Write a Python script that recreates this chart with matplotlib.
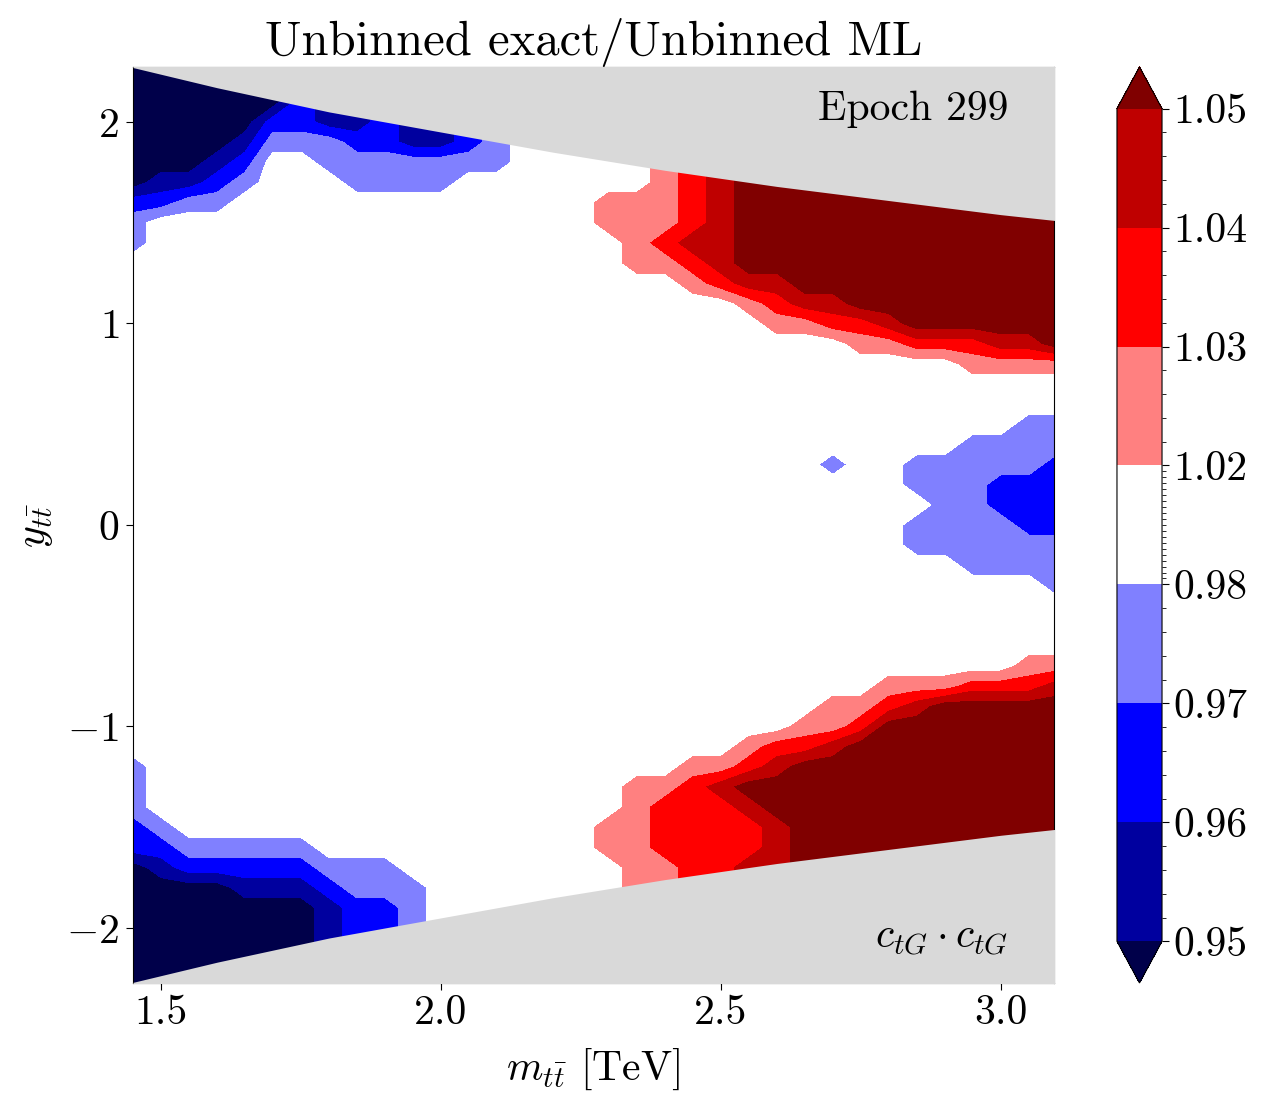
"""
Rapport exact / ML non binné dans le plan (m_tt, y_tt), époque 299.
"""

import matplotlib
matplotlib.use("Agg")
import matplotlib.pyplot as plt
import matplotlib.ticker as mticker
from matplotlib.cm import ScalarMappable
from matplotlib.colors import from_levels_and_colors
import numpy as np

plt.rcParams.update({
    "font.family":                 "serif",
    "font.serif":                  ["cmr10"],
    "mathtext.fontset":            "cm",
    "axes.formatter.use_mathtext": True,
    "font.size":                   30,
    "xtick.major.size":            5,
    "ytick.major.size":            5,
})

GRAY = "#d9d9d9"

# ── Données ───────────────────────────────────────────────────────────────────

# grille d'échantillonnage (TeV, rapidité)
m_grid = np.linspace(1.45, 3.10, 34)
y_grid = np.linspace(2.3, -2.3, 47)

# bornes des bandes du rapport exact/ML
levels = [0.95, 0.96, 0.97, 0.98, 1.02, 1.03, 1.04, 1.05]

# bande lue sur la carte (0 : < 0.95 ... 4 : 0.98-1.02 ... 8 : > 1.05),
# une ligne par valeur de y (haut -> bas), une colonne par valeur de m
band_rows = [
    "0000002112112344444567888888888888",  # 2.3
    "0000002112112344444567888888888888",  # 2.2
    "0000002112112344444567888888888888",  # 2.1
    "0000022112112344444567888888888888",  # 2.0
    "0000133322112344444567888888888888",  # 1.9
    "0001244333333344444567888888888888",  # 1.8
    "0112344433334444444567888888888888",  # 1.7
    "2233444444444444455567888888888888",  # 1.6
    "3444444444444444455567888888888888",  # 1.5
    "3444444444444444445677888888888888",  # 1.4
    "4444444444444444445567888888888888",  # 1.3
    "4444444444444444444456778888888888",  # 1.2
    "4444444444444444444444567788888888",  # 1.1
    "4444444444444444444444455667888888",  # 1.0
    "4444444444444444444444444455666778",  # 0.9
    "4444444444444444444444444444445555",  # 0.8
    "4444444444444444444444444444444444",  # 0.7
    "4444444444444444444444444444444444",  # 0.6
    "4444444444444444444444444444444433",  # 0.5
    "4444444444444444444444444444443333",  # 0.4
    "4444444444444444444444444344333332",  # 0.3
    "4444444444444444444444444444333222",  # 0.2
    "4444444444444444444444444444433222",  # 0.1
    "4444444444444444444444444444333322",  # 0.0
    "4444444444444444444444444444333333",  # -0.1
    "4444444444444444444444444444443333",  # -0.2
    "4444444444444444444444444444444443",  # -0.3
    "4444444444444444444444444444444444",  # -0.4
    "4444444444444444444444444444444444",  # -0.5
    "4444444444444444444444444444444444",  # -0.6
    "4444444444444444444444444444444455",  # -0.7
    "4444444444444444444444444445556667",  # -0.8
    "4444444444444444444444444556788888",  # -0.9
    "4444444444444444444444445568888888",  # -1.0
    "4444444444444444444444566788888888",  # -1.1
    "3444444444444444444455678888888888",  # -1.2
    "3444444444444444445567888888888888",  # -1.3
    "3444444444444444445666788888888888",  # -1.4
    "2344444444444444455666678888888888",  # -1.5
    "2233333444444444455666678888888888",  # -1.6
    "0122222333444444445566778888888888",  # -1.7
    "0000111233344444445566778888888888",  # -1.8
    "0000000122344444445566778888888888",  # -1.9
    "0000000122344444445566778888888888",  # -2.0
    "0000000122344444445566778888888888",  # -2.1
    "0000000122344444445566778888888888",  # -2.2
    "0000000122344444445566778888888888",  # -2.3
]

edge_m = [1.45, 1.60, 1.80, 2.00, 2.20, 2.40, 2.60, 2.80, 3.00, 3.10]
edge_y = [2.27, 2.17, 2.05, 1.95, 1.85, 1.76, 1.68, 1.61, 1.54, 1.51]

band = np.array([[int(c) for c in row] for row in band_rows], dtype=float)

# ── Figure ────────────────────────────────────────────────────────────────────

band_colors = ["#00004a", "#00009f", "#0000ff", "#8080ff", "#ffffff",
               "#ff8080", "#ff0000", "#bf0000", "#800000"]

# carte : contours à mi-chemin entre deux bandes voisines
band_edges = np.arange(len(levels)) + 0.5
cmap_map, norm_map = from_levels_and_colors(band_edges, band_colors, extend="both")
# barre de couleur : vraies valeurs du rapport
cmap_cb, norm_cb = from_levels_and_colors(levels, band_colors, extend="both")

fig = plt.figure(figsize=(12.69, 10.94), dpi=100)
ax = fig.add_axes([0.1048, 0.1015, 0.7258, 0.8373])
cax = fig.add_axes([0.8802, 0.1015, 0.0355, 0.8373])

ax.contourf(m_grid, y_grid, band, levels=band_edges, cmap=cmap_map,
            norm=norm_map, extend="both")

ax.fill_between(edge_m, edge_y, 2.5, color=GRAY, lw=0, zorder=3)
ax.fill_between(edge_m, -2.5, -np.array(edge_y), color=GRAY, lw=0, zorder=3)

ax.set_xlim(1.45, 3.095)
ax.set_ylim(-2.273, 2.273)
ax.set_xticks([1.5, 2.0, 2.5, 3.0])
ax.set_yticks([-2, -1, 0, 1, 2])
ax.xaxis.set_major_formatter(mticker.FormatStrFormatter("%.1f"))
ax.tick_params(axis="x", pad=3)
ax.tick_params(axis="y", pad=5)

ax.set_title("Unbinned exact/Unbinned ML", fontsize=35, pad=8)
ax.set_xlabel(r"$m_{t\bar{t}}$ [TeV]", labelpad=11)
ax.set_ylabel(r"$y_{t\bar{t}}$", labelpad=8)

ax.text(0.95, 0.942, "Epoch 299", transform=ax.transAxes,
        ha="right", va="baseline", zorder=5)
ax.text(0.95, 0.038, r"$c_{tG}\cdot c_{tG}$", transform=ax.transAxes,
        ha="right", va="baseline", zorder=5)

sm = ScalarMappable(norm=norm_cb, cmap=cmap_cb)
cbar = fig.colorbar(sm, cax=cax, extend="both", spacing="uniform",
                    ticks=levels, format="%.2f")
cbar.ax.yaxis.set_minor_locator(mticker.MultipleLocator(0.002))
cbar.ax.tick_params(which="major", length=5, width=0.8, pad=3)
cbar.ax.tick_params(which="minor", length=3, width=0.6)

fig.savefig("out.png", dpi=100)
